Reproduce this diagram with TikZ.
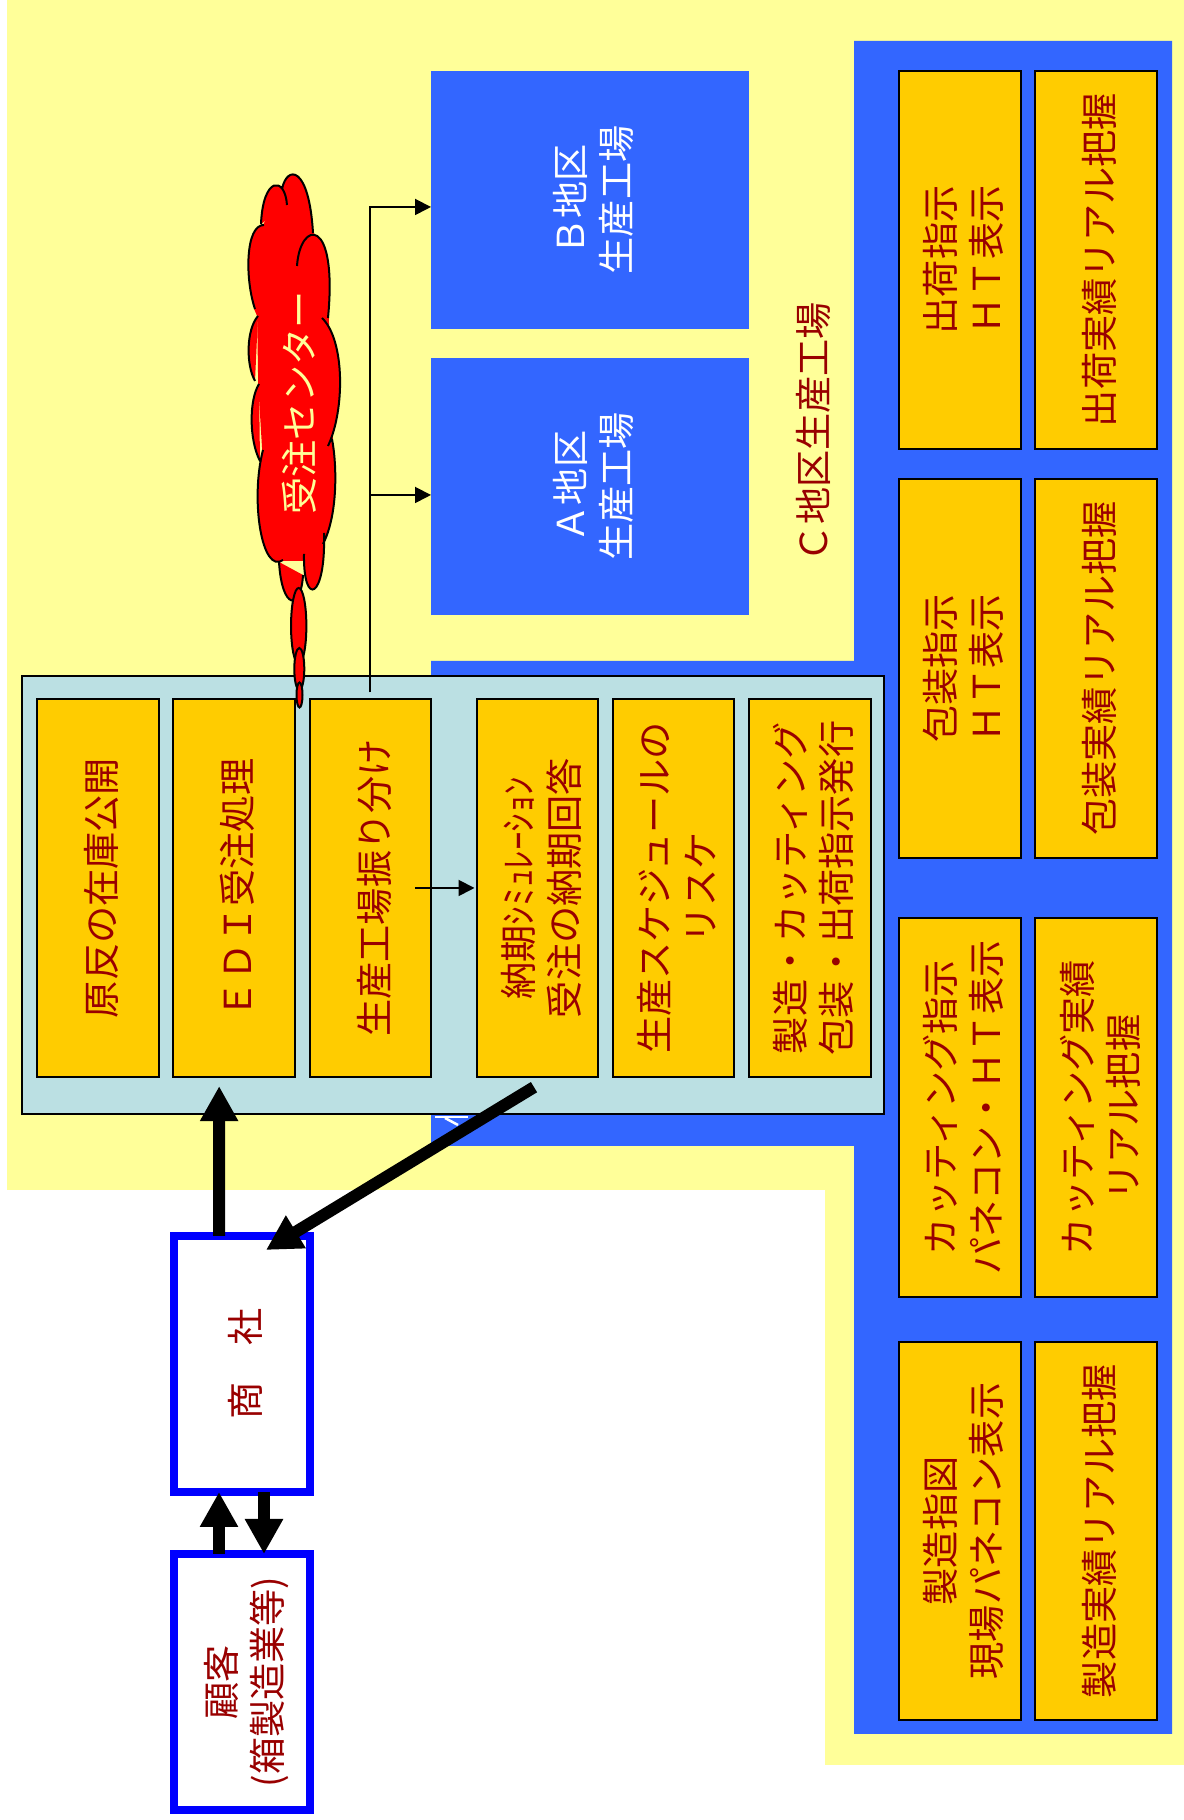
\documentclass[tikz,border=0pt]{standalone}
\usepackage{fontspec}
\setmainfont{Noto Sans CJK JP}
\usepackage{xcolor}
\usetikzlibrary{
    arrows.meta,
    positioning,
    shapes.geometric,
    calc
}
\definecolor{paleyellow}{HTML}{FFFF99}
\definecolor{areablue}{HTML}{3366FF}
\definecolor{taskorange}{HTML}{FFCC00}
\definecolor{panelteal}{HTML}{BBE0E3}
\definecolor{labelred}{HTML}{990000}

\begin{document}
\begin{tikzpicture}[
        x=0.6pt,
        y=0.6pt,
        rotate=90,
        transform shape,
        node distance=8.7pt,
        label text/.style={
            font=\fontsize{22.3pt}{27.6pt}\selectfont,
            align=center,
            inner sep=0pt,
            outer sep=0pt,
            execute at begin node={\rule{0pt}{24.2pt}},
            execute at end node={\rule[-3pt]{0pt}{3pt}}
        },
        pair/.style={
            execute at begin node={\rule{0pt}{52pt}}
        },
        task/.style={
            label text,
            rectangle,
            draw,
            line width=1.2pt,
            fill=taskorange,
            text=labelred,
            minimum width=227pt,
            minimum height=73pt
        },
        party/.style={
            label text,
            rectangle,
            draw=blue,
            line width=4.8pt,
            fill=white,
            text=labelred,
            minimum width=153.6pt,
            minimum height=81.6pt
        },
        plant/.style={
            label text,
            pair,
            rectangle,
            fill=areablue,
            text=white,
            minimum height=190.8pt
        },
        puff/.style={
            ellipse,
            draw,
            line width=1.2pt,
            fill=red,
            inner sep=0pt,
            outer sep=0pt
        },
        thinline/.style={
            -{Triangle[length=9.6pt,width=9.6pt]},
            line width=1.1pt
        },
        bigline/.style={
            -{Triangle[length=21pt,width=21.6pt]},
            line width=7.2pt
        }
    ]

    \useasboundingbox (0,0) rectangle (1820,-1184);

    \fill[paleyellow]
        (630,-7) -- (1820,-7) -- (1820,-1184) -- (55,-1184)
        -- (55,-825) -- (630,-825) -- cycle;

    \fill[areablue]
        (86,-854) -- (1779,-854) -- (1779,-1172) -- (86,-1172) -- cycle
        (674,-431) -- (1159,-431) -- (1159,-860) -- (674,-860) -- cycle;

    \draw[white, line width=1.5pt] (703,-435) -- (703,-468);
    \draw[white, line width=1.5pt] (702,-445) -- (695,-458);

    \node[plant, minimum width=154.2pt] (plantA) at (1333.5,-590)
        {Ａ地区\\生産工場};

    \node[plant, minimum width=154.8pt, right=17.4pt of plantA] (plantB)
        {Ｂ地区\\生産工場};

    \node[label text, text=labelred] (plantC) at (1388,-809.5)
        {Ｃ地区生産工場};

    \node[rectangle, draw, line width=1.2pt, fill=panelteal, outer sep=0pt,
        minimum width=262.8pt, minimum height=517.2pt] (panel) at (925,-453) {};

    \node[task] (stock) at (932,-98)
        {原反の在庫公開};

    \node[task, below=of stock] (edi)
        {ＥＤＩ受注処理};

    \node[task, below=of edi] (assign)
        {生産工場振り分け};

    \node[task, pair, below=27.2pt of assign] (promise)
        {納期ｼﾐｭﾚｰｼｮﾝ\\受注の納期回答};

    \node[task, pair, below=of promise] (resched)
        {生産スケジュールの\\リスケ};

    \node[task, pair, below=of resched] (release)
        {製造・カッティング\\包装・出荷指示発行};

    \node[task, pair] (makeOrder) at (289,-960)
        {製造指図\\現場パネコン表示};

    \node[task, below=of makeOrder] (makeResult)
        {製造実績リアル把握};

    \node[task, pair, right=27.1pt of makeOrder] (cutOrder)
        {カッティング指示\\パネコン・ＨＴ表示};

    \node[task, pair, below=of cutOrder] (cutResult)
        {カッティング実績\\リアル把握};

    \node[task, pair, right=36.4pt of cutOrder] (packOrder)
        {包装指示\\ＨＴ表示};

    \node[task, below=of packOrder] (packResult)
        {包装実績リアル把握};

    \node[task, pair, right=18.1pt of packOrder] (shipOrder)
        {出荷指示\\ＨＴ表示};

    \node[task, below=of shipOrder] (shipResult)
        {出荷実績リアル把握};

    \node[party] (trader) at (456,-242)
        {商　社};

    \node[party, pair] (customer) at (138,-242)
        {顧客\\(箱製造業等)};

    \begin{scope}[shift={(1820,0)}, x={(0pt,-0.6pt)}, y={(-0.6pt,0pt)}]
        \path[fill=red, draw=red, line width=1pt]
            (264,225) -- (282,189) -- (313,233) -- (328,318) -- (332,439)
            -- (324,533) -- (304,560) -- (283,560) -- (263,450) -- (259,384)
            -- (258,316) -- (255,309) -- cycle;
        \draw[line width=1.2pt, fill=red]
            (261,224) .. controls (263,176) and (285,176) .. (287,205)
            (282,189) .. controls (287,165) and (309,165) .. (313,233)
            (297,266) .. controls (300,220) and (338,215) .. (328,318)
            (322,318) .. controls (345,340) and (345,410) .. (328,446)
            (332,439) .. controls (337,465) and (338,515) .. (323,544)
            (324,533) .. controls (326,600) and (303,608) .. (304,554)
            (303,575) .. controls (301,611) and (282,611) .. (279,562)
            (283,560) .. controls (262,575) and (250,500) .. (263,450)
            (260,461) .. controls (249,440) and (249,400) .. (259,384)
            (255,381) .. controls (246,365) and (246,330) .. (258,316)
            (255,309) .. controls (245,280) and (245,225) .. (264,225);
    \end{scope}

    \node[puff, minimum width=45.6pt, minimum height=9.2pt] (puffA) at (1194,-298.7) {};
    \node[puff, minimum width=25.2pt, minimum height=6pt] (puffB) at (1151,-299.3) {};
    \node[puff, minimum width=15pt, minimum height=3.6pt] (puffC) at (1125,-299.5) {};

    \node[label text, text=paleyellow] (center) at (1417,-296)
        {受注センター};

    \coordinate (trunk) at ([xshift=3.9pt]assign.east);
    \coordinate (toA) at ([xshift=-5.1pt]plantA.north);
    \coordinate (toB) at ([xshift=-4.2pt]plantB.north);

    \draw[thinline] (trunk) -| (toB);
    \draw[thinline] (toA |- trunk) -- (toA);
    \draw[thinline]
        ([yshift=-26.7pt]assign.center)
        -- ([yshift=1.2pt]promise.north);

    \draw[bigline] ([yshift=13.8pt]trader.east) -- ([shift={(-5.4pt,9pt)}]edi.west);
    \draw[bigline] ([shift={(-6pt,2pt)}]promise.west) -- ([shift={(68.4pt,-14.4pt)}]trader.center);
    \draw[bigline] ([yshift=13.8pt]customer.east) -- ([yshift=13.8pt]trader.west);
    \draw[bigline] ([yshift=-13.2pt]trader.west) -- ([yshift=-13.2pt]customer.east);

    \end{tikzpicture}
\end{document}
